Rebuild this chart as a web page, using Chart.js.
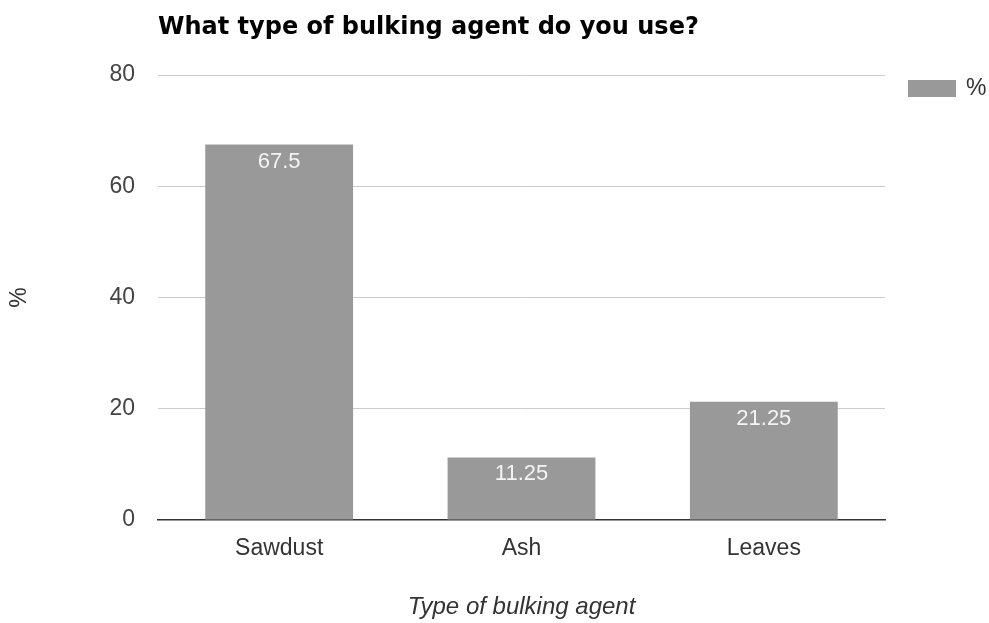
<!DOCTYPE html>
<html><head><meta charset="utf-8">
<script src="https://cdn.jsdelivr.net/npm/chart.js@4"></script>
<style>html,body{margin:0;padding:0;background:#fff}#wrap{width:989px;height:623px}</style>
</head><body><div id="wrap"><canvas id="c" width="989" height="623"></canvas></div>
<script>
const categories = ["Sawdust", "Ash", "Leaves"];
const values = [67.5, 11.25, 21.25];
const yTicks = [0, 20, 40, 60, 80];
const seriesName = "%";
const chartTitle = "What type of bulking agent do you use?";
const xTitle = "Type of bulking agent";
const yTitle = "%";

const FONT = '"Liberation Sans", Arial, sans-serif';

const overlay = {
  id: 'overlay',
  afterDatasetsDraw(chart) {
    const ctx = chart.ctx;
    const meta = chart.getDatasetMeta(0);
    ctx.save();
    ctx.fillStyle = '#f4f4f4';
    ctx.font = '22px ' + FONT;
    ctx.textAlign = 'center';
    ctx.textBaseline = 'middle';
    meta.data.forEach((bar, i) => {
      ctx.fillText(String(values[i]), bar.x, bar.y + 17);
    });
    ctx.restore();
  },
  afterDraw(chart) {
    const ctx = chart.ctx;
    const a = chart.chartArea;
    ctx.save();
    // title
    ctx.fillStyle = '#000';
    ctx.font = 'bold 24px "DejaVu Sans", Verdana, sans-serif';
    ctx.textAlign = 'left';
    ctx.textBaseline = 'alphabetic';
    ctx.fillText(chartTitle, a.left, 34);
    // legend
    ctx.fillStyle = '#999999';
    ctx.fillRect(908, 80, 48, 17);
    ctx.fillStyle = '#333';
    ctx.font = '23px ' + FONT;
    ctx.textBaseline = 'middle';
    ctx.fillText(seriesName, 966, 89);
    // x title
    ctx.font = 'italic 24px ' + FONT;
    ctx.textAlign = 'center';
    ctx.fillText(xTitle, (a.left + a.right) / 2, 607);
    // y title
    ctx.translate(20, (a.top + a.bottom) / 2);
    ctx.rotate(-Math.PI / 2);
    ctx.font = '23px ' + FONT;
    ctx.fillText(yTitle, 0, 0);
    ctx.restore();
  }
};

new Chart(document.getElementById('c'), {
  type: 'bar',
  data: {
    labels: categories,
    datasets: [{
      label: seriesName,
      data: values,
      backgroundColor: '#999999',
      borderWidth: 0,
      categoryPercentage: 1.0,
      barPercentage: 0.61
    }]
  },
  options: {
    responsive: false,
    animation: false,
    devicePixelRatio: 1,
    layout: { padding: { top: 75, right: 104, left: 0, bottom: 0 } },
    plugins: { legend: { display: false }, title: { display: false }, tooltip: { enabled: false } },
    scales: {
      x: {
        grid: { display: false, drawTicks: false },
        border: { display: true, color: '#333333', width: 1.5 },
        ticks: { color: '#333', font: { family: FONT, size: 23 }, padding: 15 },
        afterFit(s) { s.height = 103; }
      },
      y: {
        min: 0, max: 80,
        afterBuildTicks(s) { s.ticks = yTicks.map(v => ({ value: v })); },
        grid: { color: (c) => c.tick && c.tick.value === 0 ? 'rgba(0,0,0,0)' : '#cccccc', drawTicks: false, lineWidth: 1 },
        border: { display: false },
        ticks: { color: '#444', font: { family: FONT, size: 23 }, padding: 23 },
        afterFit(s) { s.width = 158; }
      }
    }
  },
  plugins: [overlay]
});
</script></body></html>
